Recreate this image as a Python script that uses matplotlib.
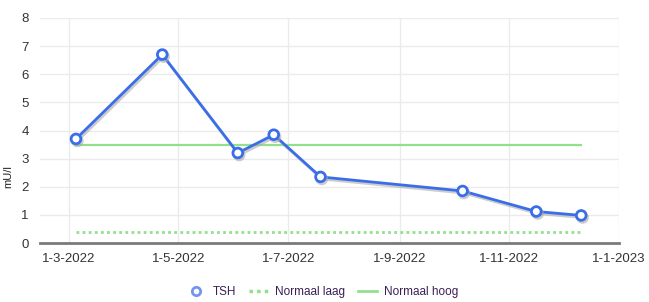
import matplotlib.pyplot as plt
import matplotlib.patheffects as pe
from matplotlib.lines import Line2D
import datetime as dt

# TSH measurements
dates = ["2022-03-05", "2022-04-22", "2022-06-03", "2022-06-23",
         "2022-07-19", "2022-10-06", "2022-11-16", "2022-12-11"]
tsh = [3.7, 6.7, 3.2, 3.85, 2.35, 1.85, 1.12, 0.98]

normal_low = 0.4
normal_high = 3.5

tick_dates = ["2022-03-01", "2022-05-01", "2022-07-01", "2022-09-01",
              "2022-11-01", "2023-01-01"]
tick_labels = ["1-3-2022", "1-5-2022", "1-7-2022", "1-9-2022",
               "1-11-2022", "1-1-2023"]

x = [dt.datetime.strptime(d, "%Y-%m-%d") for d in dates]
ticks = [dt.datetime.strptime(d, "%Y-%m-%d") for d in tick_dates]

plt.rcParams['font.family'] = ['Liberation Sans', 'DejaVu Sans']

fig = plt.figure(figsize=(6.49, 3.02), dpi=100)
ax = fig.add_axes([40/649, 59/302, 579/649, 225/302])

blue = "#3a6ee8"
green = "#93e08c"

ax.plot([x[0], x[-1]], [normal_low, normal_low], color=green, lw=2,
        ls=(0, (1, 1.2)), zorder=2)
ax.plot([x[0], x[-1]], [normal_high, normal_high], color=green, lw=1.6, zorder=2)
ax.plot(x, tsh, color=blue, lw=2, marker='o', ms=7, mfc='white', mec=blue, mew=2,
        zorder=3,
        path_effects=[pe.SimpleLineShadow(offset=(1, -1.5), shadow_color='#aaaaaa', alpha=0.6),
                      pe.Normal()])

ax.set_xlim(dt.datetime(2022, 2, 13), dt.datetime(2023, 1, 1))
ax.set_ylim(0, 8)
ax.set_xticks(ticks)
ax.set_xticklabels(tick_labels)
ax.set_yticks(range(0, 9))

ax.grid(True, color="#ebebeb", lw=1)
ax.set_axisbelow(True)
for s in ["top", "right", "left"]:
    ax.spines[s].set_visible(False)
ax.spines["bottom"].set_color("#7a7a7a")
ax.spines["bottom"].set_linewidth(2)
ax.tick_params(length=0, labelsize=9.5, labelcolor="#333333")
ax.tick_params(axis='x', pad=7)
ax.tick_params(axis='y', pad=8)

fig.text(0.012, 125/302, "mU/l", rotation=90, fontsize=8, color="#222222",
         va="center", ha="center")

handles = [
    Line2D([], [], ls='none', marker='o', ms=6, mfc='white', mec="#7596ee", mew=2),
    Line2D([], [], color=green, lw=2.5, ls=(0, (1, 1.2))),
    Line2D([], [], color=green, lw=2),
]
fig.legend(handles, ["TSH", "Normaal laag", "Normaal hoog"], loc="center",
           bbox_to_anchor=(0.497, 10/302), ncol=3, frameon=False, fontsize=8.5,
           labelcolor="#3a1f55", handlelength=1.6, columnspacing=1.1, handletextpad=0.6)

plt.savefig("out.png", dpi=100)
